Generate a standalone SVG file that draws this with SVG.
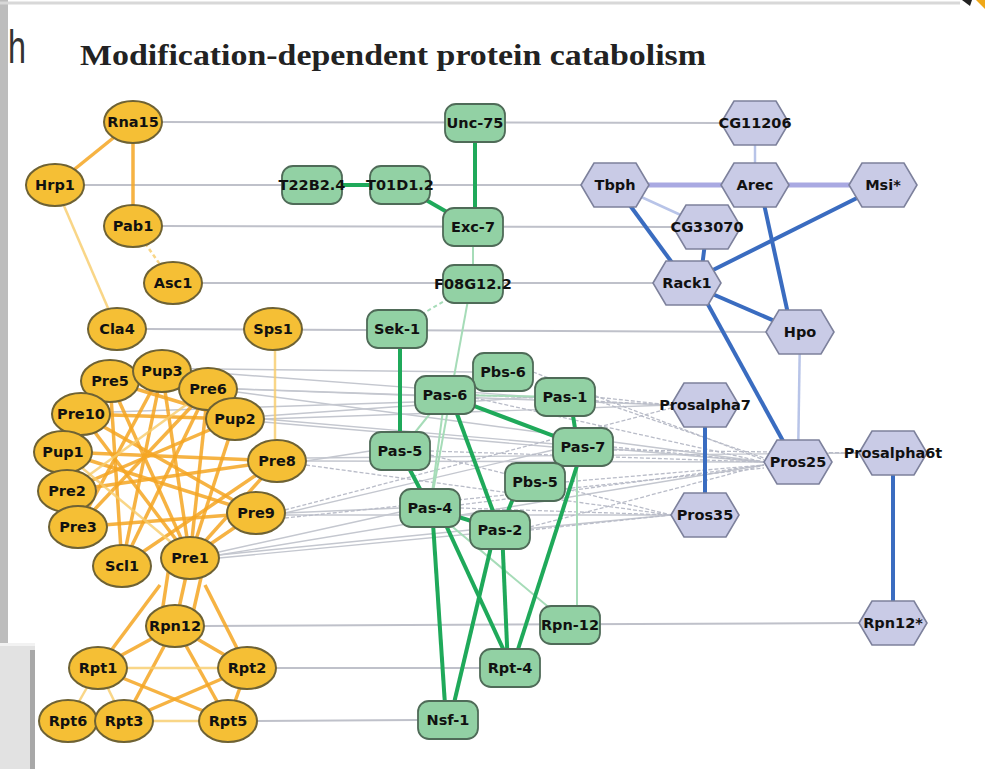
<svg xmlns="http://www.w3.org/2000/svg" width="985" height="769" viewBox="0 0 985 769">
<defs>
<style>
.y ellipse{fill:#f5bf35;stroke:#6e6234;stroke-width:2}
.g rect{fill:#92d1a4;stroke:#4f6b58;stroke-width:1.8}
.b polygon{fill:#c9cbe6;stroke:#7d819c;stroke-width:1.6}
text.l{font-family:"DejaVu Sans",sans-serif;font-weight:bold;font-size:14.5px;fill:#111;text-anchor:middle;dominant-baseline:central}
.hom line{stroke:#bfc1ca;stroke-width:2}
.bun line{stroke:#b9bcc8;stroke-width:1.3;stroke-dasharray:4 2}
.bun2 line{stroke:#c4c7cf;stroke-width:1.4}
.or line{stroke:#f5a623;stroke-width:3.5;opacity:.85}
.ol line{stroke:#f8cc6a;stroke-width:2.5;opacity:.8}
.gt line{stroke:#1fa95a;stroke-width:4}
.gl line{stroke:#a6dcb8;stroke-width:2}
.bt line{stroke:#3a6cc0;stroke-width:4}
.bl line{stroke:#b8c4e8;stroke-width:2.5}
.bv line{stroke:#a9a9e2;stroke-width:5}
</style>
<polygon id="hx" points="-34,0 -21,-22 21,-22 34,0 21,22 -21,22"/>
</defs>
<rect width="985" height="769" fill="#fff"/>
<rect x="0" y="0" width="8" height="643" fill="#bdbdbd"/>
<line x1="0" y1="3" x2="960" y2="3" stroke="#d8d8d8" stroke-width="3"/>
<rect x="0" y="645" width="35" height="124" fill="#e2e2e2"/>
<rect x="30" y="650" width="5" height="119" fill="#a8a8a8"/>
<rect x="0" y="643" width="35" height="3" fill="#f2f2f2"/>
<path d="M962 0 L972 0 L970 6 Z" fill="#222"/>
<path d="M976 0 L985 0 L985 9 Z" fill="#f0a818"/>

<text x="8" y="63" font-family="Liberation Sans, sans-serif" font-size="46" fill="#333" textLength="18" lengthAdjust="spacingAndGlyphs">h</text>
<text x="80" y="65" font-family="Liberation Serif, serif" font-weight="bold" font-size="29" fill="#222" textLength="626" lengthAdjust="spacingAndGlyphs">Modification-dependent protein catabolism</text>

<g id="connectors">
<g class="hom">
<line x1="162" y1="122" x2="721" y2="123"/>
<line x1="84" y1="185" x2="282" y2="185"/>
<line x1="430" y1="185" x2="581" y2="185"/>
<line x1="162" y1="226" x2="673" y2="227"/>
<line x1="202" y1="283" x2="653" y2="283"/>
<line x1="146" y1="329" x2="766" y2="332"/>
<line x1="204" y1="626" x2="859" y2="623"/>
<line x1="276" y1="668" x2="480" y2="668"/>
<line x1="257" y1="721" x2="418" y2="720"/>
</g>
<g class="bun2">
<line x1="130" y1="368" x2="473" y2="372"/>
<line x1="237" y1="389" x2="415" y2="395" stroke="#a9acb6" stroke-width="2.5"/>
<line x1="237" y1="389" x2="671" y2="405"/>
<line x1="237" y1="392" x2="764" y2="462"/>
<line x1="264" y1="419" x2="671" y2="405"/>
<line x1="264" y1="419" x2="764" y2="462"/>
<line x1="264" y1="422" x2="553" y2="447"/>
<line x1="264" y1="416" x2="535" y2="397"/>
<line x1="306" y1="461" x2="370" y2="451"/>
<line x1="306" y1="461" x2="764" y2="462"/>
<line x1="306" y1="458" x2="859" y2="453"/>
<line x1="285" y1="513" x2="400" y2="508"/>
<line x1="285" y1="513" x2="553" y2="450"/>
<line x1="285" y1="515" x2="671" y2="515"/>
<line x1="219" y1="552" x2="400" y2="512"/>
<line x1="219" y1="555" x2="470" y2="530"/>
<line x1="219" y1="558" x2="671" y2="515"/>
<line x1="219" y1="555" x2="764" y2="465"/>
<line x1="110" y1="412" x2="475" y2="400"/>
<line x1="190" y1="371" x2="535" y2="397"/>
</g>
<g class="bun">
<line x1="475" y1="395" x2="671" y2="405"/>
<line x1="595" y1="397" x2="671" y2="405"/>
<line x1="475" y1="398" x2="764" y2="462"/>
<line x1="613" y1="447" x2="764" y2="462"/>
<line x1="613" y1="450" x2="859" y2="453"/>
<line x1="430" y1="451" x2="764" y2="462"/>
<line x1="430" y1="455" x2="671" y2="515"/>
<line x1="565" y1="482" x2="764" y2="465"/>
<line x1="460" y1="508" x2="671" y2="515"/>
<line x1="460" y1="505" x2="764" y2="465"/>
<line x1="530" y1="530" x2="671" y2="515"/>
<line x1="530" y1="527" x2="764" y2="465"/>
<line x1="533" y1="372" x2="764" y2="460"/>
<line x1="306" y1="465" x2="671" y2="515"/>
<line x1="285" y1="518" x2="764" y2="468"/>
<line x1="285" y1="510" x2="671" y2="408"/>
<line x1="595" y1="400" x2="764" y2="458"/>
</g>
<g class="or">
<line x1="133" y1="122" x2="55" y2="185"/>
<line x1="133" y1="122" x2="133" y2="226"/>
<line x1="63" y1="452" x2="277" y2="461"/>
<line x1="110" y1="381" x2="190" y2="558"/>
<line x1="162" y1="371" x2="190" y2="558"/>
<line x1="208" y1="389" x2="190" y2="558"/>
<line x1="81" y1="414" x2="190" y2="558"/>
<line x1="110" y1="381" x2="122" y2="566"/>
<line x1="162" y1="371" x2="122" y2="566"/>
<line x1="208" y1="389" x2="122" y2="566"/>
<line x1="81" y1="414" x2="256" y2="513"/>
<line x1="235" y1="419" x2="190" y2="558"/>
<line x1="277" y1="461" x2="190" y2="558"/>
<line x1="277" y1="461" x2="122" y2="566"/>
<line x1="67" y1="491" x2="277" y2="461"/>
<line x1="78" y1="527" x2="256" y2="513"/>
<line x1="162" y1="371" x2="78" y2="527"/>
<line x1="208" y1="389" x2="78" y2="527"/>
<line x1="110" y1="381" x2="235" y2="419"/>
<line x1="63" y1="452" x2="256" y2="513"/>
<line x1="81" y1="414" x2="235" y2="419"/>
<line x1="235" y1="419" x2="67" y2="491"/>
<line x1="256" y1="513" x2="190" y2="558"/>
<line x1="190" y1="558" x2="175" y2="626"/>
<line x1="170" y1="560" x2="160" y2="626"/>
<line x1="205" y1="560" x2="190" y2="626"/>
<line x1="160" y1="585" x2="98" y2="668"/>
<line x1="205" y1="585" x2="247" y2="668"/>
<line x1="175" y1="626" x2="98" y2="668"/>
<line x1="175" y1="626" x2="247" y2="668"/>
<line x1="175" y1="626" x2="124" y2="721"/>
<line x1="175" y1="626" x2="228" y2="721"/>
<line x1="98" y1="668" x2="228" y2="721"/>
<line x1="247" y1="668" x2="124" y2="721"/>
<line x1="247" y1="668" x2="228" y2="721"/>
</g>
<g class="ol">
<line x1="55" y1="185" x2="117" y2="329"/>
<line x1="133" y1="226" x2="173" y2="283" stroke-dasharray="4 3"/>
<line x1="275" y1="350" x2="275" y2="440"/>
<line x1="98" y1="668" x2="247" y2="668"/>
<line x1="98" y1="668" x2="68" y2="721"/>
<line x1="98" y1="668" x2="124" y2="721"/>
<line x1="124" y1="721" x2="228" y2="721"/>
<line x1="63" y1="452" x2="190" y2="558"/>
<line x1="67" y1="491" x2="208" y2="389"/>
</g>
<g class="gl">
<line x1="473" y1="227" x2="473" y2="284"/>
<line x1="473" y1="284" x2="397" y2="329" stroke-dasharray="4 3"/>
<line x1="468" y1="300" x2="430" y2="508"/>
<line x1="445" y1="395" x2="565" y2="397"/>
<line x1="445" y1="395" x2="503" y2="372"/>
<line x1="577" y1="447" x2="577" y2="625"/>
<line x1="430" y1="508" x2="570" y2="625"/>
<line x1="445" y1="395" x2="400" y2="451"/>
<line x1="445" y1="395" x2="430" y2="508"/>
</g>
<g class="gt">
<line x1="475" y1="123" x2="475" y2="227"/>
<line x1="312" y1="185" x2="400" y2="185"/>
<line x1="400" y1="185" x2="473" y2="227"/>
<line x1="400" y1="329" x2="400" y2="451"/>
<line x1="445" y1="395" x2="583" y2="447"/>
<line x1="450" y1="395" x2="500" y2="530"/>
<line x1="570" y1="397" x2="578" y2="447"/>
<line x1="400" y1="451" x2="430" y2="508"/>
<line x1="430" y1="508" x2="500" y2="530"/>
<line x1="500" y1="530" x2="520" y2="482"/>
<line x1="583" y1="447" x2="512" y2="668"/>
<line x1="432" y1="508" x2="446" y2="720"/>
<line x1="438" y1="508" x2="512" y2="668"/>
<line x1="495" y1="530" x2="450" y2="720"/>
<line x1="502" y1="530" x2="508" y2="668"/>
</g>
<g class="bl">
<line x1="755" y1="123" x2="755" y2="185"/>
<line x1="615" y1="185" x2="707" y2="227"/>
<line x1="800" y1="332" x2="798" y2="462"/>
</g>
<g class="bv">
<line x1="615" y1="185" x2="755" y2="185"/>
<line x1="755" y1="185" x2="883" y2="185"/>
</g>
<g class="bt">
<line x1="615" y1="185" x2="687" y2="283"/>
<line x1="707" y1="227" x2="700" y2="283"/>
<line x1="883" y1="185" x2="687" y2="283"/>
<line x1="762" y1="195" x2="792" y2="332"/>
<line x1="687" y1="283" x2="800" y2="332"/>
<line x1="700" y1="290" x2="788" y2="450"/>
<line x1="705" y1="405" x2="705" y2="515"/>
<line x1="893" y1="453" x2="893" y2="623"/>
</g>
</g>

<g id="Rna15" class="y"><ellipse cx="133" cy="122" rx="29" ry="21"/><text class="l" x="133" y="122">Rna15</text></g>
<g id="Hrp1" class="y"><ellipse cx="55" cy="185" rx="29" ry="21"/><text class="l" x="55" y="185">Hrp1</text></g>
<g id="Pab1" class="y"><ellipse cx="133" cy="226" rx="29" ry="21"/><text class="l" x="133" y="226">Pab1</text></g>
<g id="Asc1" class="y"><ellipse cx="173" cy="283" rx="29" ry="21"/><text class="l" x="173" y="283">Asc1</text></g>
<g id="Cla4" class="y"><ellipse cx="117" cy="329" rx="29" ry="21"/><text class="l" x="117" y="329">Cla4</text></g>
<g id="Sps1" class="y"><ellipse cx="273" cy="329" rx="29" ry="21"/><text class="l" x="273" y="329">Sps1</text></g>
<g id="Pre5" class="y"><ellipse cx="110" cy="381" rx="29" ry="21"/><text class="l" x="110" y="381">Pre5</text></g>
<g id="Pup3" class="y"><ellipse cx="162" cy="371" rx="29" ry="21"/><text class="l" x="162" y="371">Pup3</text></g>
<g id="Pre6" class="y"><ellipse cx="208" cy="389" rx="29" ry="21"/><text class="l" x="208" y="389">Pre6</text></g>
<g id="Pup2" class="y"><ellipse cx="235" cy="419" rx="29" ry="21"/><text class="l" x="235" y="419">Pup2</text></g>
<g id="Pre10" class="y"><ellipse cx="81" cy="414" rx="29" ry="21"/><text class="l" x="81" y="414">Pre10</text></g>
<g id="Pup1" class="y"><ellipse cx="63" cy="452" rx="29" ry="21"/><text class="l" x="63" y="452">Pup1</text></g>
<g id="Pre8" class="y"><ellipse cx="277" cy="461" rx="29" ry="21"/><text class="l" x="277" y="461">Pre8</text></g>
<g id="Pre2" class="y"><ellipse cx="67" cy="491" rx="29" ry="21"/><text class="l" x="67" y="491">Pre2</text></g>
<g id="Pre9" class="y"><ellipse cx="256" cy="513" rx="29" ry="21"/><text class="l" x="256" y="513">Pre9</text></g>
<g id="Pre3" class="y"><ellipse cx="78" cy="527" rx="29" ry="21"/><text class="l" x="78" y="527">Pre3</text></g>
<g id="Scl1" class="y"><ellipse cx="122" cy="566" rx="29" ry="21"/><text class="l" x="122" y="566">Scl1</text></g>
<g id="Pre1" class="y"><ellipse cx="190" cy="558" rx="29" ry="21"/><text class="l" x="190" y="558">Pre1</text></g>
<g id="Rpn12" class="y"><ellipse cx="175" cy="626" rx="29" ry="21"/><text class="l" x="175" y="626">Rpn12</text></g>
<g id="Rpt1" class="y"><ellipse cx="98" cy="668" rx="29" ry="21"/><text class="l" x="98" y="668">Rpt1</text></g>
<g id="Rpt2" class="y"><ellipse cx="247" cy="668" rx="29" ry="21"/><text class="l" x="247" y="668">Rpt2</text></g>
<g id="Rpt6" class="y"><ellipse cx="68" cy="721" rx="29" ry="21"/><text class="l" x="68" y="721">Rpt6</text></g>
<g id="Rpt3" class="y"><ellipse cx="124" cy="721" rx="29" ry="21"/><text class="l" x="124" y="721">Rpt3</text></g>
<g id="Rpt5" class="y"><ellipse cx="228" cy="721" rx="29" ry="21"/><text class="l" x="228" y="721">Rpt5</text></g>

<g id="Unc-75" class="g"><rect x="445" y="104" width="60" height="38" rx="11"/><text class="l" x="475" y="123">Unc-75</text></g>
<g id="T22B2.4" class="g"><rect x="282" y="166" width="60" height="38" rx="11"/><text class="l" x="312" y="185">T22B2.4</text></g>
<g id="T01D1.2" class="g"><rect x="370" y="166" width="60" height="38" rx="11"/><text class="l" x="400" y="185">T01D1.2</text></g>
<g id="Exc-7" class="g"><rect x="443" y="208" width="60" height="38" rx="11"/><text class="l" x="473" y="227">Exc-7</text></g>
<g id="F08G12.2" class="g"><rect x="443" y="265" width="60" height="38" rx="11"/><text class="l" x="473" y="284">F08G12.2</text></g>
<g id="Sek-1" class="g"><rect x="367" y="310" width="60" height="38" rx="11"/><text class="l" x="397" y="329">Sek-1</text></g>
<g id="Pbs-6" class="g"><rect x="473" y="353" width="60" height="38" rx="11"/><text class="l" x="503" y="372">Pbs-6</text></g>
<g id="Pas-6" class="g"><rect x="415" y="376" width="60" height="38" rx="11"/><text class="l" x="445" y="395">Pas-6</text></g>
<g id="Pas-1" class="g"><rect x="535" y="378" width="60" height="38" rx="11"/><text class="l" x="565" y="397">Pas-1</text></g>
<g id="Pas-5" class="g"><rect x="370" y="432" width="60" height="38" rx="11"/><text class="l" x="400" y="451">Pas-5</text></g>
<g id="Pas-7" class="g"><rect x="553" y="428" width="60" height="38" rx="11"/><text class="l" x="583" y="447">Pas-7</text></g>
<g id="Pbs-5" class="g"><rect x="505" y="463" width="60" height="38" rx="11"/><text class="l" x="535" y="482">Pbs-5</text></g>
<g id="Pas-4" class="g"><rect x="400" y="489" width="60" height="38" rx="11"/><text class="l" x="430" y="508">Pas-4</text></g>
<g id="Pas-2" class="g"><rect x="470" y="511" width="60" height="38" rx="11"/><text class="l" x="500" y="530">Pas-2</text></g>
<g id="Rpn-12" class="g"><rect x="540" y="606" width="60" height="38" rx="11"/><text class="l" x="570" y="625">Rpn-12</text></g>
<g id="Rpt-4" class="g"><rect x="480" y="649" width="60" height="38" rx="11"/><text class="l" x="510" y="668">Rpt-4</text></g>
<g id="Nsf-1" class="g"><rect x="418" y="701" width="60" height="38" rx="11"/><text class="l" x="448" y="720">Nsf-1</text></g>

<g id="CG11206" class="b"><use href="#hx" x="755" y="123" fill="#c9cbe6" stroke="#7d819c" stroke-width="1.6"/><text class="l" x="755" y="123">CG11206</text></g>
<g id="Tbph" class="b"><use href="#hx" x="615" y="185" fill="#c9cbe6" stroke="#7d819c" stroke-width="1.6"/><text class="l" x="615" y="185">Tbph</text></g>
<g id="Arec" class="b"><use href="#hx" x="755" y="185" fill="#c9cbe6" stroke="#7d819c" stroke-width="1.6"/><text class="l" x="755" y="185">Arec</text></g>
<g id="Msi" class="b"><use href="#hx" x="883" y="185" fill="#c9cbe6" stroke="#7d819c" stroke-width="1.6"/><text class="l" x="883" y="185">Msi*</text></g>
<g id="CG33070" class="b"><use href="#hx" x="707" y="227" fill="#c9cbe6" stroke="#7d819c" stroke-width="1.6"/><text class="l" x="707" y="227">CG33070</text></g>
<g id="Rack1" class="b"><use href="#hx" x="687" y="283" fill="#c9cbe6" stroke="#7d819c" stroke-width="1.6"/><text class="l" x="687" y="283">Rack1</text></g>
<g id="Hpo" class="b"><use href="#hx" x="800" y="332" fill="#c9cbe6" stroke="#7d819c" stroke-width="1.6"/><text class="l" x="800" y="332">Hpo</text></g>
<g id="Prosalpha7" class="b"><use href="#hx" x="705" y="405" fill="#c9cbe6" stroke="#7d819c" stroke-width="1.6"/><text class="l" x="705" y="405">Prosalpha7</text></g>
<g id="Pros25" class="b"><use href="#hx" x="798" y="462" fill="#c9cbe6" stroke="#7d819c" stroke-width="1.6"/><text class="l" x="798" y="462">Pros25</text></g>
<g id="Prosalpha6t" class="b"><use href="#hx" x="893" y="453" fill="#c9cbe6" stroke="#7d819c" stroke-width="1.6"/><text class="l" x="893" y="453">Prosalpha6t</text></g>
<g id="Pros35" class="b"><use href="#hx" x="705" y="515" fill="#c9cbe6" stroke="#7d819c" stroke-width="1.6"/><text class="l" x="705" y="515">Pros35</text></g>
<g id="Rpn12star" class="b"><use href="#hx" x="893" y="623" fill="#c9cbe6" stroke="#7d819c" stroke-width="1.6"/><text class="l" x="893" y="623">Rpn12*</text></g>
</svg>
